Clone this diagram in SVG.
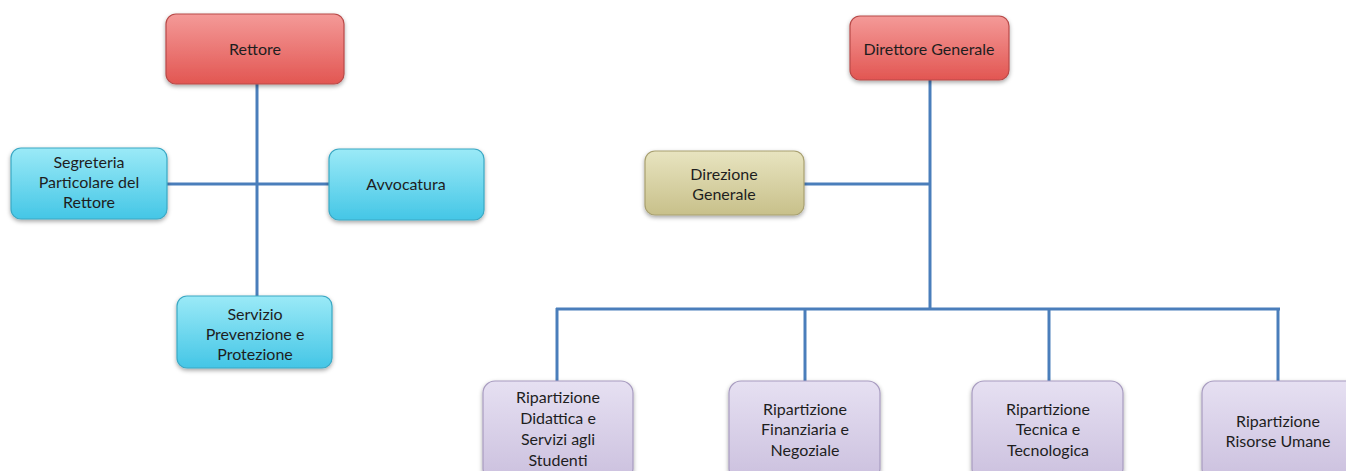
<svg xmlns="http://www.w3.org/2000/svg" width="1346" height="471" viewBox="0 0 1346 471">
<style>
.n rect{stroke-width:1.2;filter:url(#sh)}
.red rect{fill:url(#gr);stroke:#b84a48}
.cy rect{fill:url(#gc);stroke:#3aa8c4}
.kh rect{fill:url(#gk);stroke:#a8a070}
.lv rect{fill:url(#gl);stroke:#a89cc0}
text{font-family:Lato,"Open Sans","Liberation Sans",sans-serif;font-size:16px;fill:#1e1e1e;text-anchor:middle}
#conn line{stroke:#4a7ebb;stroke-width:3}
</style>
<defs>
<filter id="sh" x="-10%" y="-10%" width="125%" height="130%"><feDropShadow dx="0" dy="2" stdDeviation="2" flood-color="#000" flood-opacity="0.35"/></filter>
<linearGradient id="gr" x1="0" y1="0" x2="0" y2="1"><stop offset="0" stop-color="#f49a98"/><stop offset="1" stop-color="#e25652"/></linearGradient>
<linearGradient id="gc" x1="0" y1="0" x2="0" y2="1"><stop offset="0" stop-color="#9beaf7"/><stop offset="1" stop-color="#44c6e6"/></linearGradient>
<linearGradient id="gk" x1="0" y1="0" x2="0" y2="1"><stop offset="0" stop-color="#e8e4c0"/><stop offset="1" stop-color="#c8c08a"/></linearGradient>
<linearGradient id="gl" x1="0" y1="0" x2="0" y2="1"><stop offset="0" stop-color="#e6e0f2"/><stop offset="1" stop-color="#cbc0de"/></linearGradient>
</defs>
<g id="conn">
<line x1="257" y1="84" x2="257" y2="296"/>
<line x1="166" y1="184" x2="329" y2="184"/>
<line x1="930" y1="80" x2="930" y2="309"/>
<line x1="804" y1="184" x2="931" y2="184"/>
<line x1="556" y1="309" x2="1280" y2="309"/>
<line x1="557" y1="308" x2="557" y2="381"/>
<line x1="805" y1="308" x2="805" y2="381"/>
<line x1="1049" y1="308" x2="1049" y2="381"/>
<line x1="1278" y1="308" x2="1278" y2="381"/>
</g>
<g id="rettore" class="n red"><rect x="166" y="14" width="178" height="70" rx="10"/><text x="255" y="55">Rettore</text></g>
<g id="segreteria" class="n cy"><rect x="11" y="148" width="156" height="71" rx="10"/><text x="89" y="168">Segreteria</text><text x="89" y="188">Particolare del</text><text x="89" y="208">Rettore</text></g>
<g id="avvocatura" class="n cy"><rect x="329" y="149" width="155" height="71" rx="10"/><text x="406" y="190">Avvocatura</text></g>
<g id="servizio" class="n cy"><rect x="177" y="296" width="155" height="72" rx="10"/><text x="255" y="320">Servizio</text><text x="255" y="340">Prevenzione e</text><text x="255" y="360">Protezione</text></g>
<g id="direttore" class="n red"><rect x="850" y="16" width="159" height="64" rx="10"/><text x="929" y="55">Direttore Generale</text></g>
<g id="direzione" class="n kh"><rect x="645" y="151" width="159" height="64" rx="10"/><text x="724" y="180">Direzione</text><text x="724" y="200">Generale</text></g>
<g id="didattica" class="n lv"><rect x="483" y="381" width="150" height="100" rx="12"/><text x="558" y="403">Ripartizione</text><text x="558" y="424">Didattica e</text><text x="558" y="445">Servizi agli</text><text x="558" y="466">Studenti</text></g>
<g id="finanziaria" class="n lv"><rect x="729" y="381" width="151" height="100" rx="12"/><text x="805" y="415">Ripartizione</text><text x="805" y="435">Finanziaria e</text><text x="805" y="456">Negoziale</text></g>
<g id="tecnica" class="n lv"><rect x="972" y="381" width="151" height="100" rx="12"/><text x="1048" y="415">Ripartizione</text><text x="1048" y="435">Tecnica e</text><text x="1048" y="456">Tecnologica</text></g>
<g id="risorse" class="n lv"><rect x="1202" y="381" width="160" height="100" rx="12"/><text x="1278" y="427">Ripartizione</text><text x="1278" y="447">Risorse Umane</text></g>
</svg>
